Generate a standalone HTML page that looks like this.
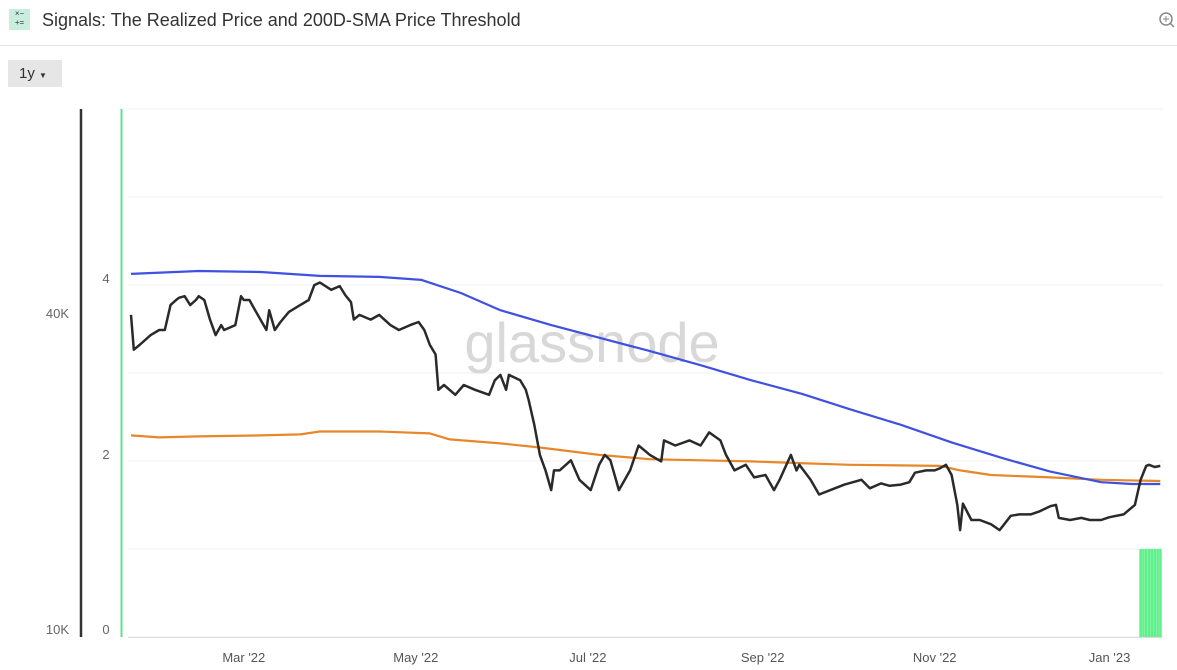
<!DOCTYPE html>
<html><head><meta charset="utf-8"><style>
body{margin:0;width:1177px;height:670px;background:#fff;font-family:"Liberation Sans",sans-serif;overflow:hidden;position:relative}
.hdr{position:absolute;left:0;top:0;width:1177px;height:45px;border-bottom:1px solid #e6e6e6}
.ico{position:absolute;left:9px;top:9px;width:21px;height:21px;background:#c9eedd;font-size:8px;line-height:9px;text-align:center;color:#333}
.title{position:absolute;left:42px;top:10px;font-size:18px;color:#333}
.btn{position:absolute;left:8px;top:60px;width:54px;height:27px;background:#e6e6e6;font-size:15px;color:#333;line-height:27px;padding-left:11px;box-sizing:border-box}
</style></head><body>
<div class="hdr">
<div class="ico">×−<br>+=</div>
<div class="title">Signals: The Realized Price and 200D-SMA Price Threshold</div>
<svg style="position:absolute;left:1158px;top:11px" width="18" height="18"><circle cx="8" cy="8" r="6" fill="none" stroke="#888" stroke-width="1.5"/><line x1="12" y1="12" x2="16" y2="16" stroke="#888" stroke-width="1.5"/><line x1="5" y1="8" x2="11" y2="8" stroke="#888"/><line x1="8" y1="5" x2="8" y2="11" stroke="#888"/></svg>
</div>
<div class="btn">1y <span style="font-size:8px">▼</span></div>
<svg id="chart" width="1177" height="670" style="position:absolute;left:0;top:0"></svg>
<script>
const days=[0,1,3,7,10,12,14,16,17,19,21,23,24,26,28,30,32,33,37,39,40,42,44,48,49,51,53,56,60,63,65,67,71,74,76,78,79,81,85,88,92,95,99,102,104,106,108,109,111,115,118,122,127,129,131,133,134,138,140,141,143,145,147,149,150,152,156,159,163,166,168,170,173,177,180,184,188,189,193,198,202,205,209,211,214,218,221,225,228,230,234,236,237,241,244,248,253,259,262,266,269,273,276,278,282,285,287,289,291,293,294,295,298,301,305,308,312,315,319,322,326,328,329,333,337,340,344,347,352,356,358,360,361,363,365];
const price=[39.7,34.2,34.9,36.4,37.2,37.2,41.4,42.3,42.7,43.0,41.4,42.3,43.0,42.3,38.9,36.4,38.0,37.2,38.0,43.0,42.3,42.3,40.5,37.2,40.5,37.2,38.5,40.2,41.4,42.3,45.1,45.6,44.2,44.9,43.2,41.9,38.9,39.7,38.9,39.7,38.0,37.2,38.0,38.5,37.2,34.9,33.5,28.8,29.4,28.2,29.4,28.8,28.2,30.0,30.7,28.8,30.7,30.0,28.8,27.6,24.8,21.8,20.4,18.75,20.4,20.4,21.3,19.6,18.75,20.9,21.8,21.3,18.75,20.4,22.7,21.8,21.2,23.2,22.7,23.2,22.7,24.0,23.2,21.8,20.4,20.9,19.8,20.0,18.75,19.6,21.8,20.4,20.9,19.6,18.4,18.75,19.2,19.6,18.9,19.3,19.1,19.2,19.4,20.2,20.4,20.4,20.6,20.9,20.0,17.6,15.8,17.7,16.5,16.5,16.2,15.8,16.8,16.9,16.9,17.1,17.5,17.6,16.65,16.5,16.65,16.5,16.5,16.7,16.9,17.6,19.6,20.8,20.9,20.7,20.8];
const smaDays=[0,24,46,67,88,103,117,131,149,166,184,202,220,238,255,273,291,309,326,344,355,365];
const sma=[47.3,47.9,47.7,46.9,46.7,46.1,43.6,40.5,38.0,36.0,34.0,32.0,30.0,28.3,26.5,24.8,23.0,21.5,20.3,19.4,19.25,19.25];
const rpDays=[0,10,24,46,60,67,88,106,113,131,145,166,184,202,220,237,255,287,294,305,326,344,365];
const realized=[23.7,23.5,23.6,23.7,23.8,24.1,24.1,23.9,23.3,22.9,22.5,21.8,21.4,21.3,21.2,21.05,20.9,20.8,20.4,20.0,19.8,19.6,19.5];
const sigDays=[358,359,360,361,362,363,364,365];
const signal=[1,1,1,1,1,1,1,1];
const xTicks=[{d:40,t:"Mar '22"},{d:101,t:"May '22"},{d:162,t:"Jul '22"},{d:224,t:"Sep '22"},{d:285,t:"Nov '22"},{d:347,t:"Jan '23"}];
const priceTicks=[10,40];
const sigTicks=[0,2,4];

const svg=document.getElementById('chart');const NS='http://www.w3.org/2000/svg';
const X=d=>131+d*2.82;
const YP=p=>637-Math.log10(p/10)*538;
const YS=s=>637-s*88;
function el(t,a,p){const e=document.createElementNS(NS,t);for(const k in a)e.setAttribute(k,a[k]);(p||svg).appendChild(e);return e;}
for(let s=0;s<=6;s++){const g=el('line',{x1:128,x2:1163,y1:YS(s),y2:YS(s),stroke:'#efefef'});

}
const wm=el('text',{x:592,y:362,'text-anchor':'middle','font-size':56,fill:'#d8d8d8','font-family':'Liberation Sans, sans-serif'});wm.textContent='glassnode';


const ax=el('line',{x1:81,x2:81,y1:109,y2:637,stroke:'#333','stroke-width':2.5});


const gl=el('line',{x1:121.5,x2:121.5,y1:109,y2:637,stroke:'#5ee38a','stroke-width':2});


const bl=el('line',{x1:128,x2:1163,y1:637.5,y2:637.5,stroke:'#ddd'});


priceTicks.forEach(p=>{const t=el('text',{x:69,y:Math.min(YP(p)+5,634),'text-anchor':'end','font-size':13,fill:'#666'});t.textContent=p+'K';

});
sigTicks.forEach(s=>{const t=el('text',{x:106,y:Math.min(YS(s)-2,634),'text-anchor':'middle','font-size':13,fill:'#666'});t.textContent=s;

});
xTicks.forEach(k=>{const t=el('text',{x:X(k.d),y:662,'text-anchor':'middle','font-size':13,fill:'#555'});t.textContent=k.t;

});
sigDays.forEach((d,i)=>{const r=el('rect',{x:X(d)-1.2,y:YS(signal[i]),width:2.6,height:YS(0)-YS(signal[i]),fill:'#5ef08a'});

});
function line(xs,ys,col,name,w){const d=xs.map((x,i)=>(i?'L':'M')+X(x).toFixed(1)+','+YP(ys[i]).toFixed(1)).join('');
const p=el('path',{d:d,fill:'none',stroke:col,'stroke-width':w,'stroke-linejoin':'round'});

}
line(rpDays,realized,'#e8862a','realized-price-line',2.2);
line(smaDays,sma,'#3f51e0','sma-200d-line',2.2);
line(days,price,'#2a2a2a','btc-price-line',2.5);
</script>
</body></html>
